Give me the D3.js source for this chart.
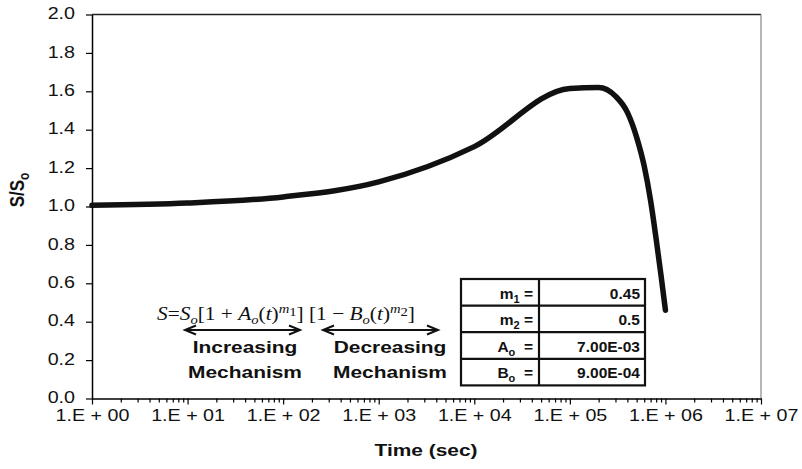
<!DOCTYPE html>
<html><head><meta charset="utf-8">
<script src="https://cdn.jsdelivr.net/npm/d3@7"></script>
<style>
body{margin:0;background:#fff;}
svg{display:block;font-family:"Liberation Sans",Arial,sans-serif;}
</style>
</head><body>
<svg id="c" width="802" height="469"></svg>
<script>
// ---- data ----
const times = [1, 10, 100, 1e3, 1e4, 1e5, 2e5, 3e5, 4e5, 5e5, 6e5, 7e5, 8e5, 9e5, 1e6];
const ratio = [1.006, 1.018, 1.05, 1.128, 1.312, 1.615, 1.62, 1.575, 1.49, 1.36, 1.21, 1.03, 0.83, 0.64, 0.46];
const yTicks = [0, 0.2, 0.4, 0.6, 0.8, 1.0, 1.2, 1.4, 1.6, 1.8, 2.0];
const xMajor = [1, 10, 100, 1e3, 1e4, 1e5, 1e6, 1e7];
const xTickLabels = ["1.E + 00", "1.E + 01", "1.E + 02", "1.E + 03", "1.E + 04", "1.E + 05", "1.E + 06", "1.E + 07"];
const paramNames = ["m", "m", "A", "B"];
const paramSubs = ["1", "2", "o", "o"];
const paramValues = ["0.45", "0.5", "7.00E-03", "9.00E-04"];
const mechTop = ["Increasing", "Decreasing"];
const mechBottom = ["Mechanism", "Mechanism"];

const SX = 1.23;
const svg = d3.select("#c");
const L = 92, R = 761, T = 14.5, B = 398.5;
const x = d3.scaleLog().domain([1, 1e7]).range([L, R]);
const y = d3.scaleLinear().domain([0, 2]).range([B, T]);

// frame (top and right)
svg.append("line").attr("x1", L).attr("x2", R).attr("y1", T).attr("y2", T)
  .attr("stroke", "#222").attr("stroke-width", 1.5);
svg.append("line").attr("x1", R).attr("x2", R).attr("y1", T).attr("y2", B)
  .attr("stroke", "#888").attr("stroke-width", 1.2);

// y axis
const gy = svg.append("g").attr("transform", `translate(${L},0)`)
  .call(d3.axisLeft(y).tickValues(yTicks).tickSize(6).tickSizeOuter(0).tickFormat(d3.format(".1f")));
gy.select(".domain").attr("stroke", "#000").attr("stroke-width", 1.5);
gy.selectAll(".tick line").attr("stroke", "#000").attr("stroke-width", 1.2);
gy.selectAll(".tick text").attr("x", 0).attr("font-size", 16).attr("font-family", "Liberation Sans, Arial, sans-serif")
  .attr("fill", "#111").attr("transform", `translate(-17,-1) scale(${SX},1)`);

// x axis minor
const minor = x.ticks().filter(t => !xMajor.some(m => Math.abs(m - t) / m < 1e-9));
const gxm = svg.append("g").attr("transform", `translate(0,${B})`)
  .call(d3.axisBottom(x).tickValues(minor).tickSize(4).tickSizeOuter(0).tickFormat(""));
gxm.select(".domain").remove();
gxm.selectAll(".tick line").attr("stroke", "#000").attr("stroke-width", 1.2);

// x axis major
const gx = svg.append("g").attr("transform", `translate(0,${B})`)
  .call(d3.axisBottom(x).tickValues(xMajor).tickSize(6).tickSizeOuter(0).tickFormat((d, i) => xTickLabels[i]));
gx.select(".domain").attr("stroke", "#000").attr("stroke-width", 1.5);
gx.selectAll(".tick line").attr("stroke", "#000").attr("stroke-width", 1.2);
gx.selectAll(".tick text").attr("y", 0).attr("dy", 0).attr("font-size", 16)
  .attr("font-family", "Liberation Sans, Arial, sans-serif").attr("fill", "#111")
  .attr("transform", `translate(0,22) scale(${SX},1)`);

// axis titles
svg.append("text").attr("transform", `translate(426,456) scale(${SX},1)`)
  .attr("text-anchor", "middle").attr("font-size", 17).attr("font-weight", "bold").attr("fill", "#111")
  .text("Time (sec)");
const yt = svg.append("text").attr("transform", `translate(24,190) rotate(-90) scale(1,${SX})`)
  .attr("text-anchor", "middle").attr("font-size", 17).attr("font-weight", "bold").attr("fill", "#111");
yt.append("tspan").text("S/S");
yt.append("tspan").attr("font-size", 12).attr("dy", 4).text("o");

// curve
const line = d3.line().x((d, i) => x(times[i])).y(d => y(d)).curve(d3.curveMonotoneX);
svg.append("path").attr("d", line(ratio)).attr("fill", "none").attr("stroke", "#111")
  .attr("stroke-width", 5.5).attr("stroke-linecap", "round").attr("stroke-linejoin", "round");

// formula
const f = svg.append("text").attr("x", 157).attr("y", 320)
  .attr("font-family", "Liberation Serif, Times New Roman, serif").attr("font-size", 19).attr("fill", "#111")
  .attr("textLength", 258).attr("lengthAdjust", "spacingAndGlyphs");
const parts = [
  ["S", "i", 0], ["=", "n", 0], ["S", "i", 0], ["o", "i", 4], ["[1 + ", "n", -4], ["A", "i", 0], ["o", "i", 4],
  ["(", "n", -4], ["t", "i", 0], [")", "n", 0], ["m", "i", -7], ["1", "s", 3], ["] [1 − ", "n", 4],
  ["B", "i", 0], ["o", "i", 4], ["(", "n", -4], ["t", "i", 0], [")", "n", 0], ["m", "i", -7], ["2", "s", 3], ["]", "n", 4]
];
parts.forEach(([txt, st, dy], i) => {
  const small = (dy === 4 && txt === "o") || dy === -7 || st === "s";
  f.append("tspan").attr("dy", dy)
    .attr("font-style", st === "i" ? "italic" : "normal")
    .attr("font-size", small ? 13 : 19)
    .text(txt);
});

// arrows
const arrows = [[185, 300], [323, 438]];
arrows.forEach(([a, b]) => {
  const ay = 330;
  const g = svg.append("g").attr("stroke", "#111").attr("stroke-width", 2).attr("fill", "none");
  g.append("line").attr("x1", a).attr("x2", b).attr("y1", ay).attr("y2", ay);
  g.append("polyline").attr("points", `${a + 11},${ay - 4.5} ${a},${ay} ${a + 11},${ay + 4.5}`);
  g.append("polyline").attr("points", `${b - 11},${ay - 4.5} ${b},${ay} ${b - 11},${ay + 4.5}`);
});

// mechanism labels
const mechX = [245, 390];
mechX.forEach((cx, i) => {
  svg.append("text").attr("transform", `translate(${cx},353) scale(${SX},1)`).attr("text-anchor", "middle")
    .attr("font-size", 17).attr("font-weight", "bold").attr("fill", "#111").text(mechTop[i]);
  svg.append("text").attr("transform", `translate(${cx},378) scale(${SX},1)`).attr("text-anchor", "middle")
    .attr("font-size", 17).attr("font-weight", "bold").attr("fill", "#111").text(mechBottom[i]);
});

// parameter table
const tx0 = 461, tx1 = 539, tx2 = 645, ty0 = 279, rowH = 26.6;
const tg = svg.append("g");
tg.append("rect").attr("x", tx0).attr("y", ty0).attr("width", tx2 - tx0).attr("height", rowH * 4)
  .attr("fill", "#fff").attr("stroke", "#111").attr("stroke-width", 2.2);
for (let r = 1; r < 4; r++) {
  tg.append("line").attr("x1", tx0).attr("x2", tx2).attr("y1", ty0 + r * rowH).attr("y2", ty0 + r * rowH)
    .attr("stroke", "#111").attr("stroke-width", 2.2);
}
tg.append("line").attr("x1", tx1).attr("x2", tx1).attr("y1", ty0).attr("y2", ty0 + 4 * rowH)
  .attr("stroke", "#111").attr("stroke-width", 2.2);
paramNames.forEach((n, i) => {
  const by = ty0 + i * rowH + 19.5;
  const t = tg.append("text").attr("x", tx1 - 6).attr("y", by).attr("text-anchor", "end")
    .attr("font-size", 15.5).attr("font-weight", "bold").attr("fill", "#111");
  t.append("tspan").text(n);
  t.append("tspan").attr("font-size", 11).attr("dy", 4).text(paramSubs[i]);
  t.append("tspan").attr("dy", -4).text(i < 2 ? " =" : "  =").attr("xml:space", "preserve");
  tg.append("text").attr("x", tx2 - 5).attr("y", by).attr("text-anchor", "end")
    .attr("font-size", 15.5).attr("font-weight", "bold").attr("fill", "#111").text(paramValues[i]);
});
</script>
</body></html>
